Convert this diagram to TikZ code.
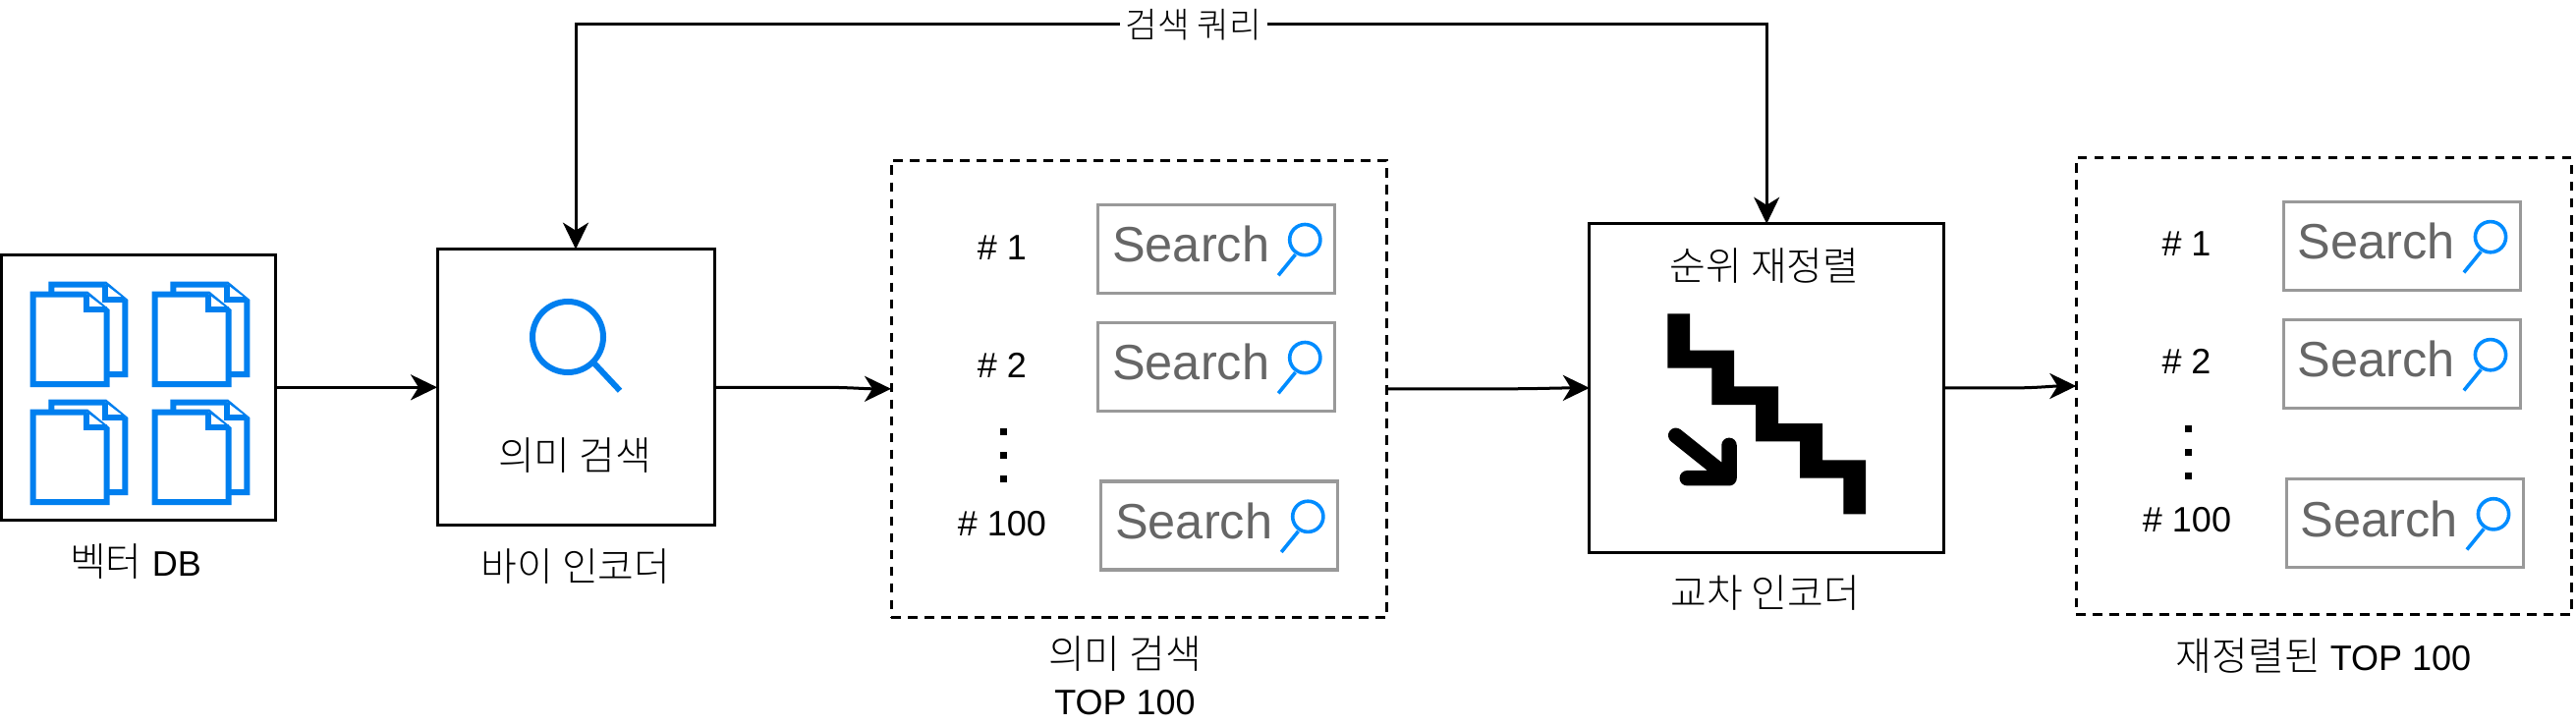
\documentclass[tikz,border=0pt]{standalone}
\usepackage{fontspec}
\setmainfont{Liberation Sans}
\newfontfamily\krf[Scale=1.11]{Noto Sans CJK KR Light}
\usetikzlibrary{arrows.meta}
\definecolor{iconblue}{HTML}{007FEF}
\definecolor{magblue}{HTML}{008CFF}
\newcommand{\txtsize}{\fontsize{36}{47}\selectfont}
\tikzset{
  blockbox/.style={draw=black,line width=3pt,fill=white,inner sep=0pt,outer sep=0pt},
  dashbox/.style={draw=black,line width=3pt,inner sep=0pt,outer sep=0pt,dash pattern=on 9.5pt off 7.5pt},
  srch/.style={draw=black!40,line width=3.2pt,inner sep=0pt,outer sep=0pt,minimum width=241pt,minimum height=90pt,anchor=north west},
  conn/.style={draw=black,line width=3pt,-{Stealth[length=27pt,width=26pt,inset=8pt]}},
  conntwo/.style={draw=black,line width=3pt,{Stealth[length=27pt,width=26pt,inset=8pt]}-{Stealth[length=27pt,width=26pt,inset=8pt]}},
  lbl/.style={inner sep=0pt,outer sep=0pt,font=\txtsize,align=center,text=black},
  docline/.style={draw=iconblue,line width=6pt,miter limit=4,fill=white,line join=miter},
  magline/.style={draw=magblue,line width=3.6pt},
  dotmark/.style={fill=black,draw=none,minimum size=6.5pt,inner sep=0pt,outer sep=0pt,shape=rectangle}
}
\newcommand{\onedoc}[2]{%
  \begin{scope}[shift={(#1,#2)}]
    \draw[docline] (0,0) -- (54.5,0) -- (75,17) -- (75,91.5) -- (0,91.5) -- cycle;
    \draw[docline] (54.5,0) -- (54.5,15.5) -- (75,15.5);
  \end{scope}}
\newcommand{\docpair}[2]{%
  \onedoc{#1+18.9}{#2-10}\onedoc{#1}{#2}}
\newcommand{\srchbox}[3]{%
  \node[srch] (#1) at (#2,#3) {};
  \node[anchor=base west,inner sep=0pt,outer sep=0pt,text=black!60,font=\fontsize{50.5}{50}\selectfont] (#1t) at (#2+14.7,#3+58.5) {Search};
  \draw[magline] (#2+210.8,#3+35.8) circle [radius=15.6pt];
  \draw[magline] (#2+201,#3+50.8) -- (#2+183.7,#3+72);
}
\begin{document}
\begin{tikzpicture}[x=1pt,y=-1pt]
\useasboundingbox (0,0) rectangle (2622,738);
\fill[white] (0,0) rectangle (2622,738);

% vector DB
\node[blockbox,minimum width=279pt,minimum height=270pt] (db) at (140.5,394.3) {};
\docpair{33.5}{299.5}
\docpair{157.5}{299.5}
\docpair{33.5}{419.5}
\docpair{157.5}{419.5}
\node[lbl] (dbl) at (138,571.7) {{\krf 벡터} DB};

% bi encoder
\node[blockbox,minimum width=282pt,minimum height=281.3pt] (bi) at (586,394.3) {};
\draw[draw=iconblue,line width=6pt] (578,343) circle [radius=36pt];
\draw[draw=iconblue,line width=6pt] (605,370) -- (631,397.7);
\node[lbl] (bit) at (585,464) {\krf 의미 검색};
\node[lbl] (bil) at (586,576.7) {\krf 바이 인코더};

% first result set
\node[dashbox,minimum width=504.4pt,minimum height=465pt] (res) at (1159.2,395.8) {};
\srchbox{a}{1117.5}{208.3}
\srchbox{b}{1117.5}{328.3}
\srchbox{c}{1120.5}{490}
\node[lbl] (an) at (1020,251.7) {\# 1};
\node[lbl] (bn) at (1020,371.7) {\# 2};
\node[lbl] (cn) at (1020,533) {\# 100};
\node[dotmark] (d1) at (1021.4,439.3) {};
\node[dotmark] (d2) at (1021.4,463.3) {};
\node[dotmark] (d3) at (1021.4,487.3) {};
\node[lbl] (resl) at (1145,688) {{\krf 의미 검색}\\TOP 100};

% cross encoder
\node[blockbox,minimum width=360.7pt,minimum height=334.3pt] (cross) at (1798.2,394.9) {};
\node[lbl] (crosst) at (1796,271) {\krf 순위 재정렬};
\fill[black] (1697.3,319.3) -- (1720,319.3) -- (1720,356.7) -- (1765,356.7) -- (1765,393.3) -- (1810,393.3) -- (1810,431) -- (1855,431) -- (1855,468.3) -- (1899,468.3) -- (1899,523.3) -- (1876.3,523.3) -- (1876.3,486.7) -- (1832,486.7) -- (1832,449.3) -- (1787,449.3) -- (1787,412) -- (1742.3,412) -- (1742.3,374.7) -- (1697.3,374.7) -- cycle;
\draw[black,line width=15.5pt,line cap=round,line join=round] (1705.7,443.3) -- (1760,486.7) (1717.3,486.7) -- (1760,486.7) -- (1760,453.3);
\node[lbl] (crossl) at (1796.6,603.6) {\krf 교차 인코더};

% reranked set
\node[dashbox,minimum width=504pt,minimum height=465pt] (rer) at (2365.3,393) {};
\srchbox{e}{2324.2}{205.4}
\srchbox{f}{2324.2}{325.4}
\srchbox{g}{2327.2}{487.5}
\node[lbl] (en) at (2225.5,248.2) {\# 1};
\node[lbl] (fn) at (2225.5,368) {\# 2};
\node[lbl] (gn) at (2226,529.6) {\# 100};
\node[dotmark] (e1) at (2227.7,436.7) {};
\node[dotmark] (e2) at (2227.7,460.5) {};
\node[dotmark] (e3) at (2227.7,484.4) {};
\node[lbl] (rerl) at (2365,667.5) {{\krf 재정렬된} TOP 100};

% connectors
\draw[conn] (db.east) -- (bi.west);
\draw[conn] (bi.east) -- ++(110,0) to[out=0,in=180] (res.west);
\draw[conn] (res.east) -- ++(120,0) to[out=0,in=180] (cross.west);
\draw[conn] (cross.east) -- ++(70,0) to[out=0,in=180] (rer.west);
\coordinate (qmid) at (1215,25);
\draw[conntwo] (bi.north) |- (qmid) -| (cross.north);
\node[lbl,fill=white,font=\fontsize{32}{36}\selectfont,inner xsep=6pt,inner ysep=0pt] (q) at (qmid) {\krf 검색 쿼리};
\end{tikzpicture}
\end{document}
